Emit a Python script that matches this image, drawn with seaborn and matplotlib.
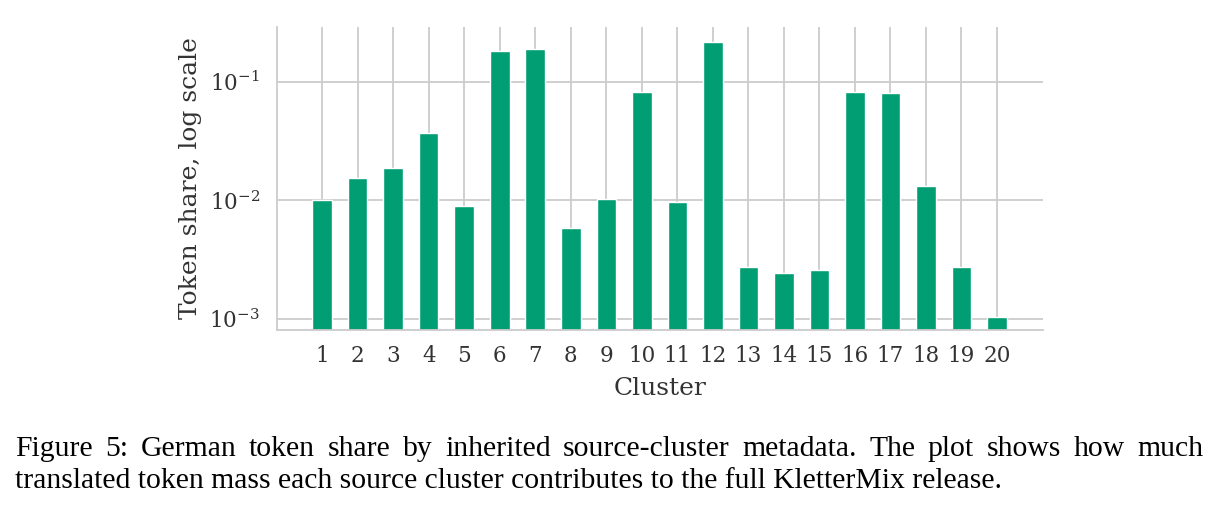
import seaborn as sns
import matplotlib.pyplot as plt

# Token share per source cluster (German release)
clusters = ["1", "2", "3", "4", "5", "6", "7", "8", "9", "10",
            "11", "12", "13", "14", "15", "16", "17", "18", "19", "20"]
shares = [0.0101, 0.0155, 0.0187, 0.0371, 0.0090, 0.183, 0.188, 0.0058,
          0.0103, 0.0823, 0.0097, 0.217, 0.00272, 0.00245, 0.00261,
          0.0823, 0.0807, 0.0133, 0.00275, 0.00103]

caption_1 = ("Figure 5: German token share by inherited source-cluster metadata.  "
             "The plot shows how much")
caption_2 = ("translated token mass each source cluster contributes to the full "
             "KletterMix release.")

sns.set_theme(style="whitegrid")
plt.rcParams["font.family"] = ["DejaVu Serif"]
plt.rcParams["mathtext.fontset"] = "dejavuserif"

fig = plt.figure(figsize=(12.18, 5.12), dpi=100)
ax = fig.add_axes([0.2272, 0.3555, 0.6289, 0.5924])

green = sns.color_palette("colorblind")[2]
sns.barplot(x=clusters, y=shares, color=green, width=0.55, saturation=1, ax=ax)
ax.set_yscale("log")
ax.set_ylim(0.000807, 0.2917)
ax.set_xlim(-1.28, 20.29)

ax.grid(True, which="major", color="#cccccc", linewidth=1.3)
ax.grid(False, which="minor")
ax.set_axisbelow(True)
sns.despine(ax=ax)
for side in ["left", "bottom"]:
    ax.spines[side].set_color("#cccccc")
    ax.spines[side].set_linewidth(1.3)

ax.tick_params(axis="both", which="both", length=0)
ax.tick_params(axis="x", labelsize=15.5, pad=11, colors="#333333")
ax.tick_params(axis="y", labelsize=15.5, pad=12, colors="#333333")
ax.set_xlabel("Cluster", fontsize=18, color="#333333", labelpad=7)
ax.set_ylabel("Token share, log scale", fontsize=18, color="#333333", labelpad=5)

# caption, first line justified to the full width like in the paper
cap_font = {"family": "Liberation Serif", "size": 21.3, "color": "black"}
left_px, right_px = 15, 1203
W, H = 1218, 512
fig.canvas.draw()
renderer = fig.canvas.get_renderer()
words = caption_1.split()
texts = [fig.text(0, 0, w, **cap_font) for w in words]
widths = [t.get_window_extent(renderer).width for t in texts]
gap = (right_px - left_px - sum(widths)) / (len(words) - 1)
x = left_px
for t, w in zip(texts, widths):
    t.set_position((x / W, 1 - 456 / H))
    t.set_va("baseline")
    x += w + gap
fig.text(left_px / W, 1 - 488 / H, caption_2, va="baseline", **cap_font)

fig.savefig("out.png", dpi=100)
